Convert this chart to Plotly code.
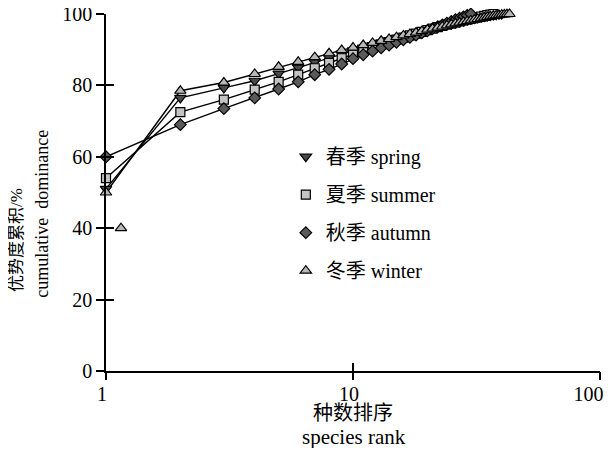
import plotly.graph_objects as go

# ---- data ----
spring_rank = list(range(1, 41))
spring_val = [51, 76.5, 79.3, 81.3, 83.3, 85.0, 86.5, 87.8, 88.9, 89.8,
              90.6, 91.3, 92.0, 92.6, 93.2, 93.7, 94.2, 94.7, 95.1, 95.5,
              95.9, 96.3, 96.6, 96.9, 97.2, 97.5, 97.8, 98.0, 98.3, 98.5,
              98.7, 98.9, 99.1, 99.3, 99.45, 99.6, 99.7, 99.8, 99.9, 100]

summer_rank = list(range(1, 38))
summer_val = [54, 72.5, 76.0, 78.8, 81.0, 83.0, 84.8, 86.3, 87.6, 88.7,
              89.7, 90.6, 91.4, 92.1, 92.8, 93.4, 94.0, 94.5, 95.0, 95.5,
              95.9, 96.3, 96.7, 97.0, 97.3, 97.6, 97.9, 98.2, 98.5, 98.7,
              98.9, 99.1, 99.3, 99.5, 99.7, 99.85, 100]

autumn_rank = list(range(1, 31))
autumn_val = [60, 69.0, 73.5, 76.5, 79.0, 81.0, 83.0, 84.5, 86.0, 87.5,
              88.6, 89.6, 90.5, 91.3, 92.1, 92.8, 93.5, 94.1, 94.7, 95.3,
              95.9, 96.4, 96.9, 97.4, 97.9, 98.4, 98.8, 99.2, 99.6, 100]

winter_rank = list(range(1, 44))
winter_val = [50, 78.5, 80.8, 83.2, 85.2, 86.6, 87.9, 89.0, 89.9, 90.6,
              91.3, 91.9, 92.5, 93.0, 93.5, 94.0, 94.4, 94.8, 95.2, 95.6,
              95.9, 96.2, 96.5, 96.8, 97.1, 97.4, 97.6, 97.8, 98.0, 98.2,
              98.4, 98.6, 98.8, 99.0, 99.2, 99.35, 99.5, 99.6, 99.7, 99.8,
              99.9, 99.95, 100]
winter_extra_rank = [1.15]
winter_extra_val = [40]

series_names = ["春季 spring", "夏季 summer", "秋季 autumn", "冬季 winter"]
x_tickvals = [1, 10, 100]
x_ticktext = ["1", "10", "100"]
y_tickvals = [0, 20, 40, 60, 80, 100]
y_title_cn = "优势度累积/%"
y_title_en = "cumulative  dominance"
x_title_cn = "种数排序"
x_title_en = "species rank"

SERIF = "Times New Roman, Liberation Serif, Noto Sans CJK SC, serif"

# pad the last x label so it stays inside the page edge
x_ticktext_drawn = x_ticktext[:-1] + [x_ticktext[-1] + "\u00a0\u00a0\u00a0"]

fig = go.Figure()

styles = [
    (spring_rank, spring_val, "triangle-down", "#4a4a4a", 10),
    (summer_rank, summer_val, "square", "#c4c4c4", 9),
    (autumn_rank, autumn_val, "diamond", "#5a5a5a", 9),
    (winter_rank, winter_val, "triangle-up", "#b8b8b8", 10),
]

# connecting lines (no legend entries)
for i, (xs, ys, sym, fill, size) in enumerate(styles):
    fig.add_trace(go.Scatter(
        x=xs, y=ys, mode="lines", showlegend=False, legendgroup=f"g{i}",
        line=dict(color="black", width=1.4), hoverinfo="skip",
        cliponaxis=False,
    ))

# markers (legend entries show the marker only)
for i, (xs, ys, sym, fill, size) in enumerate(styles):
    fig.add_trace(go.Scatter(
        x=xs, y=ys, mode="markers", name=series_names[i],
        legendgroup=f"g{i}",
        marker=dict(symbol=sym, size=size, color=fill,
                    line=dict(color="black", width=1.2)),
        cliponaxis=False,
    ))

fig.add_trace(go.Scatter(
    x=winter_extra_rank, y=winter_extra_val, mode="markers",
    legendgroup="g3", showlegend=False,
    marker=dict(symbol="triangle-up", size=10, color="#b8b8b8",
                line=dict(color="black", width=1.2)),
    cliponaxis=False,
))

# invisible traces that carry the overlay axes (crossing tick marks)
for xa, ya in (("x2", "y2"), ("x3", "y3")):
    fig.add_trace(go.Scatter(
        x=autumn_rank, y=autumn_val, mode="markers", xaxis=xa, yaxis=ya,
        marker=dict(opacity=0), showlegend=False, hoverinfo="skip",
    ))

# axis titles as annotations (lines are offset from each other in the reference)
fig.add_annotation(text=y_title_cn, xref="paper", yref="paper",
                   x=-0.180, y=0.367, textangle=-90, showarrow=False,
                   xanchor="center", yanchor="middle",
                   font=dict(family=SERIF, size=17, color="black"))
fig.add_annotation(text=y_title_en, xref="paper", yref="paper",
                   x=-0.13, y=0.44, textangle=-90, showarrow=False,
                   xanchor="center", yanchor="middle",
                   font=dict(family=SERIF, size=18, color="black"))
fig.add_annotation(text=x_title_cn, xref="paper", yref="paper",
                   x=0.50, y=-0.118, showarrow=False,
                   xanchor="center", yanchor="middle",
                   font=dict(family=SERIF, size=20, color="black"))
fig.add_annotation(text=x_title_en, xref="paper", yref="paper",
                   x=0.502, y=-0.186, showarrow=False,
                   xanchor="center", yanchor="middle",
                   font=dict(family=SERIF, size=21, color="black"))

tick_common = dict(tickwidth=1.5, tickcolor="black", ticklen=8,
                   showgrid=False, zeroline=False, automargin=False)

# the page adds an 8px body margin, so the figure is offset by 8px
fig.update_layout(
    width=604, height=440,
    margin=dict(l=98, r=12, t=6, b=77),
    paper_bgcolor="white", plot_bgcolor="white",
    font=dict(family=SERIF, color="black", size=16),
    showlegend=True,
    legend=dict(
        x=0.364, y=0.655, xanchor="left", yanchor="top",
        bgcolor="rgba(0,0,0,0)",
        font=dict(family=SERIF, size=20, color="black"),
        tracegroupgap=9, traceorder="grouped",
        itemwidth=30,
    ),
    xaxis=dict(
        type="log", range=[0, 2], automargin=False,
        tickvals=x_tickvals, ticktext=x_ticktext_drawn, ticks="",
        showline=True, linecolor="black", linewidth=1.5,
        showgrid=False, zeroline=False, ticklabeloverflow="allow",
        ticklabelshift=-4, ticklabelstandoff=4,
        tickfont=dict(family=SERIF, size=20),
    ),
    yaxis=dict(
        range=[0, 100], tickvals=y_tickvals, ticks="outside",
        showline=True, linecolor="black", linewidth=1.5,
        ticklabeloverflow="allow",
        tickfont=dict(family=SERIF, size=20),
        **tick_common,
    ),
    xaxis2=dict(
        type="log", range=[0, 2], overlaying="x", anchor="y",
        tickvals=x_tickvals, showticklabels=False, ticks="outside",
        showline=False, **tick_common,
    ),
    yaxis2=dict(
        range=[0, 100], overlaying="y", anchor="x",
        tickvals=y_tickvals, showticklabels=False, ticks="inside",
        showline=False, **tick_common,
    ),
    xaxis3=dict(
        type="log", range=[0, 2], overlaying="x", anchor="y",
        tickvals=x_tickvals, showticklabels=False, ticks="inside",
        showline=False, **tick_common,
    ),
    yaxis3=dict(
        range=[0, 100], overlaying="y", anchor="x",
        showticklabels=False, ticks="", showline=False,
        showgrid=False, zeroline=False, automargin=False,
    ),
)

fig.write_html("out.html")
